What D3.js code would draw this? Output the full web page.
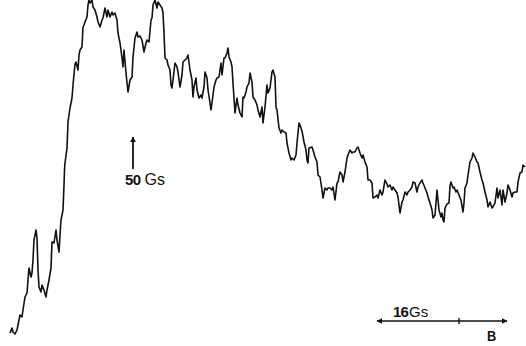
<!DOCTYPE html>
<html>
<head>
<meta charset="utf-8">
<script src="https://cdn.jsdelivr.net/npm/d3@7/dist/d3.min.js"></script>
<style>
  html, body { margin: 0; padding: 0; background: #fff; }
  svg { display: block; }
  text { font-family: "Liberation Sans", Arial, sans-serif; fill: #111; }
</style>
</head>
<body>
<script>
// ESR-style absorption trace: [field position, signal] pairs, in trace units.
const riseSegment = [
  [10,7],[12,12],[13,8],[15,6],[17,10],[18,15],[20,25],[22,23],[23,30],[25,43],
  [27,47],[28,60],[29,72],[31,63],[32,67],[33,80],[34,100],[36,110],[37,102],[38,70],
  [39,53],[41,48],[42,55],[44,50],[46,43],[47,50],[49,60],[51,72],[52,98],[54,97],
  [56,110],[57,100],[59,88],[60,105],[61,120],[63,130],[64,155],[64.5,170],[65,177],[67,192],
  [68,218],[70,232],[72,242],[73,255],[75,276],[76,278],[78,270],[79,285],[80,290],[82,293],
  [83,313],[84,315],[85,318],[87,323],[88,335],[89,340],[90,337],[92,340],[93,333],[95,330]
];
const plateauSegment = [
  [97,323],[98,318],[100,313],[102,320],[103,322],[105,332],[107,323],[108,330],[110,323],[112,328],
  [113,325],[115,327],[117,320],[118,307],[120,297],[122,282],[123,273],[124,290],[126,267],[128,248],
  [130,260],[132,263],[133,283],[135,302],[137,308],[138,303],[140,304],[142,300],[144,288],[146,297],
  [147,300],[149,298],[151,320],[152,322],[153,335],[155,340],[157,332],[158,338],[160,335],[162,332],
  [163,327],[164,307],[165,282],[167,280],[168,275],[170,270],[171,255],[172,252],[173,260],[175,277],
  [177,273],[178,268],[180,253],[182,265],[183,278],[185,280],[187,282],[188,285],[190,270],[192,260],
  [193,243],[194,253],[196,262],[197,250],[199,242],[201,245],[202,242],[204,253],[205,268],[207,262],
  [208,250],[210,237],[211,230],[213,245],[214,253],[216,260],[217,262],[219,263],[221,277],[222,265],
  [224,282],[225,282],[227,287],[228,292],[229,283],[231,278],[232,273],[233,257],[235,227],[237,242],
  [238,235],[240,227],[242,223],[243,243],[244,242],[246,248],[247,253],[249,257],[250,267],[252,258],
  [253,243],[255,240],[257,235],[258,230],[260,223],[262,233],[263,217],[265,233],[267,255],[268,247],
  [270,252],[272,268],[273,270],[275,263]
];
const decaySegment = [
  [276,233],[277,230],[279,212],[281,207],[282,210],[284,208],[286,207],[287,197],[289,187],[291,180],
  [292,182],[294,180],[296,185],[297,197],[299,217],[300,215],[302,209],[304,198],[306,190],[307,180],
  [308,177],[309,192],[312,193],[313,190],[315,183],[317,178],[318,165],[320,163],[322,150],[323,142],
  [325,152],[327,150],[328,152],[330,152],[332,150],[333,153],[335,140],[337,157],[338,158],[340,168],
  [342,165],[343,158],[345,168],[347,182],[348,185],[350,190],[352,187],[353,188],[355,188],[357,192],
  [358,193],[360,187],[362,182],[363,185],[365,178],[367,173],[368,160],[370,160],[372,157],[373,142]
];
const baselineSegment = [
  [375,143],[377,145],[378,142],[380,150],[382,145],[383,148],[385,160],[387,156],[388,153],[390,155],
  [392,150],[393,153],[395,150],[397,147],[398,143],[400,127],[402,138],[403,140],[405,148],[407,145],
  [408,148],[410,150],[412,153],[413,158],[415,157],[417,148],[418,153],[420,157],[422,160],[423,157],
  [425,152],[427,147],[428,143],[430,137],[432,130],[433,122],[435,125],[437,150],[438,140],[439,130],
  [441,123],[442,127],[443,120],[444,118],[445,132],[447,136],[449,137],[450,154],[451,158],[453,152],
  [454,153],[456,148],[457,150],[459,145],[461,140],[463,128],[464,137],[465,152],[467,157],[468,165],
  [470,178],[472,182],[473,187],[475,183],[477,178],[478,177],[480,168],[482,160],[483,157],[485,148],
  [487,140],[488,133],[490,138],[492,132],[493,133],[495,137],[497,152],[498,142],[500,150],[502,135],
  [503,150],[505,138],[507,147],[508,155],[510,150],[512,143],[513,147],[515,148],[517,148],[518,158],
  [520,167],[522,168],[523,175],[525,173]
];

// Annotation values
const markerField = 133;        // position of the "50 Gs" marker arrow
const markerLabel = ["50", "Gs"];
const scaleBarStart = 377, scaleBarTick = 459, scaleBarEnd = 507;
const scaleBarLabel = ["16", "Gs"];
const axisLabel = "B";

const W = 526, H = 346;
const trace = [].concat(riseSegment, plateauSegment, decaySegment, baselineSegment);

const x = d3.scaleLinear().domain([0, 526]).range([0, 526]);
const y = d3.scaleLinear().domain([0, 340]).range([340, 0]);

const svg = d3.select("body").append("svg")
  .attr("width", W).attr("height", H);

svg.append("rect").attr("width", W).attr("height", H).attr("fill", "#fff");

const defs = svg.append("defs");
defs.append("marker")
  .attr("id", "head").attr("viewBox", "0 0 10 10")
  .attr("refX", 9).attr("refY", 5)
  .attr("markerWidth", 6).attr("markerHeight", 6)
  .attr("markerUnits", "userSpaceOnUse")
  .attr("orient", "auto-start-reverse")
  .append("path").attr("d", "M0,0 L10,5 L0,10 Z").attr("fill", "#111");

// spectrum trace
const line = d3.line().x(d => x(d[0])).y(d => y(d[1])).curve(d3.curveLinear);
svg.append("path")
  .datum(trace)
  .attr("d", line)
  .attr("fill", "none")
  .attr("stroke", "#111")
  .attr("stroke-width", 1.6)
  .attr("stroke-linejoin", "round");

// "50 Gs" marker
svg.append("line")
  .attr("x1", x(markerField)).attr("x2", x(markerField))
  .attr("y1", 169).attr("y2", 137)
  .attr("stroke", "#111").attr("stroke-width", 1.8)
  .attr("marker-end", "url(#head)");
const mk = svg.append("text").attr("x", 125).attr("y", 185).attr("font-size", 15);
mk.append("tspan").attr("font-weight", "bold").attr("letter-spacing", -0.6).text(markerLabel[0]);
mk.append("tspan").attr("dx", 4).attr("font-size", 16).text(markerLabel[1]);

// field scale bar
svg.append("line")
  .attr("x1", x(scaleBarStart)).attr("x2", x(scaleBarEnd))
  .attr("y1", 321).attr("y2", 321)
  .attr("stroke", "#111").attr("stroke-width", 1.6)
  .attr("marker-start", "url(#head)")
  .attr("marker-end", "url(#head)");
svg.append("line")
  .attr("x1", x(scaleBarTick)).attr("x2", x(scaleBarTick))
  .attr("y1", 318).attr("y2", 324)
  .attr("stroke", "#111").attr("stroke-width", 1.4);
const sb = svg.append("text").attr("x", 393).attr("y", 317).attr("font-size", 15);
sb.append("tspan").attr("font-weight", "bold").attr("letter-spacing", -0.8).text(scaleBarLabel[0]);
sb.append("tspan").attr("dx", 1).attr("font-size", 15).text(scaleBarLabel[1]);

svg.append("text")
  .attr("x", 487).attr("y", 341)
  .attr("font-size", 15).attr("font-weight", "bold")
  .attr("transform", "translate(487,341) scale(0.85,1) translate(-487,-341)")
  .text(axisLabel);
</script>
</body>
</html>
